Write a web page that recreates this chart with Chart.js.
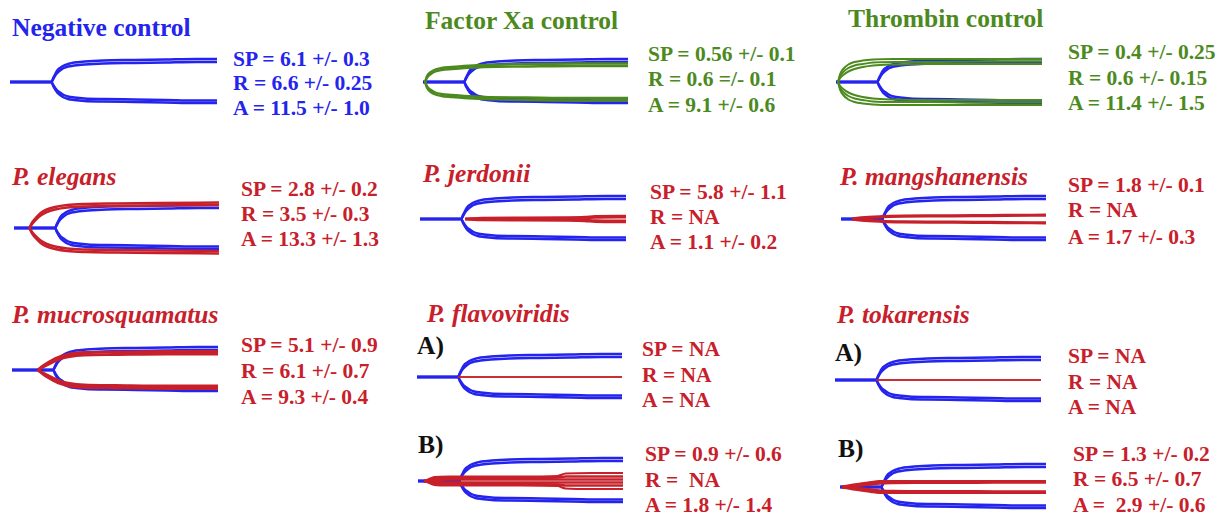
<!DOCTYPE html>
<html>
<head>
<meta charset="utf-8">
<script src="https://cdn.jsdelivr.net/npm/chart.js@4"></script>
<style>
html, body { margin: 0; padding: 0; background: #fff; }
body { width: 1217px; height: 515px; position: relative; overflow: hidden;
       font-family: "Liberation Serif", "Times New Roman", serif; font-weight: bold; }
.t { position: absolute; white-space: pre; line-height: 1; }
.title { font-size: 25.5px; }
.stat { font-size: 21.5px; }
.sp { font-style: italic; }
canvas { position: absolute; }
</style>
</head>
<body>
<script>
// ---- Thromboelastography traces: time (% of run) vs. half-amplitude ----

// Untreated plasma (blue), overlaid in every panel; upper and lower arms
const ctrlTime       = [0, 20, 21, 22, 23, 24.5, 26, 28, 31, 36, 45, 60, 75, 90, 100];
const ctrlUpperOuter = [0, 0, 4.5, 8.5, 12, 14.5, 16.5, 18, 19.5, 20.5, 21.5, 22, 22.5, 23, 23];
const ctrlUpperInner = [0, 0, 3.5, 7, 9.5, 12, 14, 15.5, 16.5, 17.5, 18.5, 19, 19.5, 20, 20];
const ctrlLowerOuter = [0, 0, 4.5, 8, 11, 13.5, 15.5, 17, 18, 19, 19.5, 20, 20.5, 21, 21];
const ctrlLowerInner = [0, 0, 3.5, 6.5, 9, 11, 13, 14.5, 15.5, 16.5, 17, 17.5, 18, 18.5, 18.5];

// Factor Xa control (green)
const xaTime   = [1, 2, 3.5, 6, 9, 14, 20, 30, 50, 75, 100];
const xaGreenA = [0, 6, 9.5, 12.5, 14, 15, 16, 17, 18, 18.5, 18.5];
const xaGreenB = [0, 4.5, 7.5, 10.5, 12, 13, 14, 15, 15.5, 16, 16];

// Thrombin control (green)
const thTime   = [1, 2, 3.5, 6, 9, 13, 18, 28, 45, 70, 100];
const thGreenA = [0, 8, 13, 17.5, 20, 21.5, 22.5, 23, 23, 23, 23];
const thGreenB = [0, 6, 10, 14, 16.5, 18, 19.5, 20, 20, 20.5, 20.5];
const thGreenC = [0, 4, 7, 10.5, 13, 15, 16.5, 17.5, 18, 18, 18];

// P. elegans (red)
const elTime = [7.5, 9, 11, 13, 16, 20, 26, 35, 50, 70, 100];
const elRedA = [0, 6, 11, 15, 18.5, 21, 23, 24, 24.5, 25, 25.5];
const elRedB = [0, 4.5, 9, 12.5, 16, 18.5, 20.5, 21.5, 22, 22.5, 23];

// P. jerdonii (red)
const jeTime = [22, 30, 50, 70, 80, 85, 100];
const jeRedA = [0, 1, 1.2, 1.5, 2, 2.8, 3];
const jeRedB = [0, 0.3, 0.4, 0.5, 0.8, 1.5, 1.8];

// P. mangshanensis (red)
const maTime = [5.5, 10, 20, 30, 45, 65, 80, 100];
const maRedA = [0, 1.2, 2.3, 2.8, 3.1, 3.3, 3.6, 3.8];

// P. mucrosquamatus (red)
const muTime = [12.5, 15, 18, 21, 24, 28, 35, 50, 75, 100];
const muRedA = [0, 4, 8, 11.5, 14, 16, 17.5, 18, 18.5, 18.5];
const muRedB = [0, 3, 6, 9, 11.5, 13.5, 15, 15.5, 16, 16];

// No clot formed (flat red line) - P. flavoviridis A, P. tokarensis A
const flatTime = [20, 100];
const flatRed  = [0, 0];

// P. flavoviridis B (red)
const fbTime = [3, 5, 8, 15, 30, 50, 68, 72, 85, 100];
const fbRedA = [0, 1.5, 4, 4.5, 4.5, 4.5, 5, 7.5, 8, 8];
const fbRedB = [0, 1, 2.5, 3, 3, 3, 3.5, 4.5, 4.5, 4.5];
const fbRedC = [0, 0.5, 1, 1.5, 1.5, 1.5, 1.5, 1.5, 1.5, 1.5];

// P. tokarensis B (red)
const tbTime = [1, 5, 10, 15, 19, 25, 40, 60, 75, 90, 100];
const tbRedA = [0, 1.5, 3, 4.5, 5.5, 5.5, 5.5, 5.5, 5.5, 5.5, 5.5];
const tbRedB = [0, 0.8, 1.5, 2.5, 3.5, 4, 4.2, 4.3, 4.5, 4.5, 4.5];

// ---- Panel labels ----
const panelTitles = ["Negative control", "Factor Xa control", "Thrombin control",
  "P. elegans", "P. jerdonii", "P. mangshanensis",
  "P. mucrosquamatus", "P. flavoviridis", "P. tokarensis"];
const statsNeg   = ["SP = 6.1 +/- 0.3", "R = 6.6 +/- 0.25", "A = 11.5 +/- 1.0"];
const statsXa    = ["SP = 0.56 +/- 0.1", "R = 0.6 =/- 0.1", "A = 9.1 +/- 0.6"];
const statsTh    = ["SP = 0.4 +/- 0.25", "R = 0.6 +/- 0.15", "A = 11.4 +/- 1.5"];
const statsEl    = ["SP = 2.8 +/- 0.2", "R = 3.5 +/- 0.3", "A = 13.3 +/- 1.3"];
const statsJe    = ["SP = 5.8 +/- 1.1", "R = NA", "A = 1.1 +/- 0.2"];
const statsMa    = ["SP = 1.8 +/- 0.1", "R = NA", "A = 1.7 +/- 0.3"];
const statsMu    = ["SP = 5.1 +/- 0.9", "R = 6.1 +/- 0.7", "A = 9.3 +/- 0.4"];
const statsFlA   = ["SP = NA", "R = NA", "A = NA"];
const statsToA   = ["SP = NA", "R = NA", "A = NA"];
const statsFlB   = ["SP = 0.9 +/- 0.6", "R =  NA", "A = 1.8 +/- 1.4"];
const statsToB   = ["SP = 1.3 +/- 0.2", "R = 6.5 +/- 0.7", "A =  2.9 +/- 0.6"];
const subLabels  = ["A)", "A)", "B)", "B)"];

// ---- Styling ----
const BLUE = "#2424ee";
const GREEN = "#4c8a1e";
const RED = "#c8202a";
const TITLE_F = 25.5, STAT_F = 21.5;
const BASE_RATIO = 0.8375; // baseline offset within a line-height:1 box

function addText(txt, x, baseline, cls, size, color, italic) {
  const d = document.createElement("div");
  d.className = "t " + cls + (italic ? " sp" : "");
  d.textContent = txt;
  d.style.left = x + "px";
  d.style.top = (baseline - BASE_RATIO * size) + "px";
  d.style.color = color;
  document.body.appendChild(d);
}

function addStats(lines, x, baselines, color) {
  lines.forEach((l, i) => addText(l, x, baselines[i], "stat", STAT_F, color, false));
}

// Titles
addText(panelTitles[0], 12, 36, "title", TITLE_F, BLUE, false);
addText(panelTitles[1], 425, 29, "title", TITLE_F, GREEN, false);
addText(panelTitles[2], 848, 27, "title", TITLE_F, GREEN, false);
addText(panelTitles[3], 12, 185, "title", TITLE_F, RED, true);
addText(panelTitles[4], 423, 182, "title", TITLE_F, RED, true);
addText(panelTitles[5], 840, 185, "title", TITLE_F, RED, true);
addText(panelTitles[6], 12, 323, "title", TITLE_F, RED, true);
addText(panelTitles[7], 427, 322, "title", TITLE_F, RED, true);
addText(panelTitles[8], 837, 323, "title", TITLE_F, RED, true);
addText(subLabels[0], 417, 354, "title", TITLE_F, "#111", false);
addText(subLabels[1], 835, 361, "title", TITLE_F, "#111", false);
addText(subLabels[2], 418, 453, "title", TITLE_F, "#111", false);
addText(subLabels[3], 838, 457, "title", TITLE_F, "#111", false);

// Stats
addStats(statsNeg, 233, [67, 91, 116], BLUE);
addStats(statsXa, 648, [62, 87, 113], GREEN);
addStats(statsTh, 1068, [60, 86, 111], GREEN);
addStats(statsEl, 241, [197, 222, 247], RED);
addStats(statsJe, 650, [200, 225, 250], RED);
addStats(statsMa, 1068, [193, 218, 245], RED);
addStats(statsMu, 241, [353, 379, 405], RED);
addStats(statsFlA, 642, [357, 383, 408], RED);
addStats(statsToA, 1068, [364, 390, 415], RED);
addStats(statsFlB, 645, [462, 488, 513], RED);
addStats(statsToB, 1073, [462, 487, 513], RED);

// ---- Trace panels ----
const PAD_X = 3, PAD_Y = 3, HALF = 28;

const panels = [
  { x0: 10,  w: 207, cy: 82,  traces: [] },
  { x0: 423, w: 205, cy: 82,  traces: [[xaTime, xaGreenA, GREEN, 2.4], [xaTime, xaGreenB, GREEN, 2.4]] },
  { x0: 836, w: 206, cy: 82,  traces: [[thTime, thGreenA, GREEN, 2], [thTime, thGreenB, GREEN, 2], [thTime, thGreenC, GREEN, 2]] },
  { x0: 14,  w: 205, cy: 228, traces: [[elTime, elRedA, RED, 2.5], [elTime, elRedB, RED, 2.5]] },
  { x0: 420, w: 206, cy: 219, traces: [[jeTime, jeRedA, RED, 2.5], [jeTime, jeRedB, RED, 2.5]] },
  { x0: 841, w: 205, cy: 219, traces: [[maTime, maRedA, RED, 3.2]] },
  { x0: 12,  w: 206, cy: 370, traces: [[muTime, muRedA, RED, 2.8], [muTime, muRedB, RED, 2.8]] },
  { x0: 417, w: 205, cy: 377, traces: [[flatTime, flatRed, RED, 1.5]] },
  { x0: 835, w: 206, cy: 380, traces: [[flatTime, flatRed, RED, 1.5]] },
  { x0: 418, w: 205, cy: 481, traces: [[fbTime, fbRedA, RED, 2.2], [fbTime, fbRedB, RED, 2.6], [fbTime, fbRedC, RED, 2.6]] },
  { x0: 840, w: 206, cy: 487, traces: [[tbTime, tbRedA, RED, 3], [tbTime, tbRedB, RED, 2.6]] }
];

function arm(time, amp, sign, color, width) {
  return {
    data: time.map((t, i) => ({ x: t, y: sign * amp[i] })),
    borderColor: color,
    borderWidth: width,
    showLine: true,
    pointRadius: 0,
    fill: false,
    cubicInterpolationMode: "monotone"
  };
}

panels.forEach(p => {
  const c = document.createElement("canvas");
  const cw = p.w + 2 * PAD_X, ch = 2 * HALF + 2 * PAD_Y;
  c.width = cw; c.height = ch;
  c.style.width = cw + "px"; c.style.height = ch + "px";
  c.style.left = (p.x0 - PAD_X) + "px";
  c.style.top = (p.cy - ch / 2) + "px";
  document.body.appendChild(c);

  const datasets = [];
  p.traces.forEach(tr => {
    datasets.push(arm(tr[0], tr[1], 1, tr[2], tr[3]));
    datasets.push(arm(tr[0], tr[1], -1, tr[2], tr[3]));
  });
  datasets.push(arm(ctrlTime, ctrlUpperOuter, 1, BLUE, 2.5));
  datasets.push(arm(ctrlTime, ctrlUpperInner, 1, BLUE, 2.5));
  datasets.push(arm(ctrlTime, ctrlLowerOuter, -1, BLUE, 2.5));
  datasets.push(arm(ctrlTime, ctrlLowerInner, -1, BLUE, 2.5));

  new Chart(c, {
    type: "scatter",
    data: { datasets },
    options: {
      responsive: false,
      animation: false,
      devicePixelRatio: 1,
      events: [],
      layout: { padding: { left: PAD_X, right: PAD_X, top: PAD_Y, bottom: PAD_Y } },
      plugins: { legend: { display: false }, tooltip: { enabled: false } },
      scales: {
        x: { type: "linear", min: 0, max: 100, display: false },
        y: { type: "linear", min: -HALF, max: HALF, display: false }
      }
    }
  });
});
</script>
</body>
</html>
